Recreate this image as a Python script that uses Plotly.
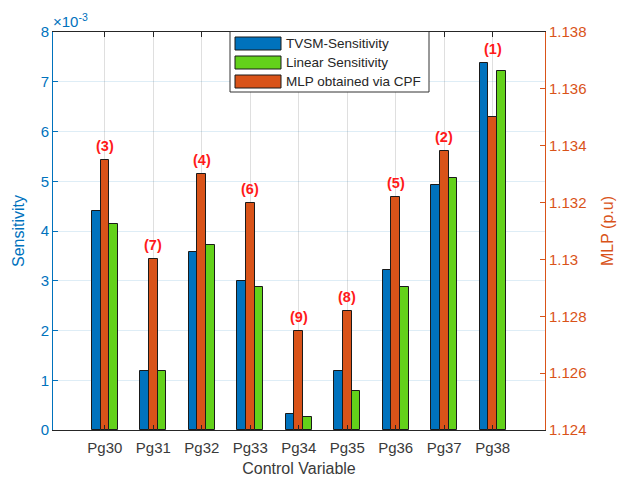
import plotly.graph_objects as go

# Control variables and sensitivity results
categories = ["Pg30", "Pg31", "Pg32", "Pg33", "Pg34", "Pg35", "Pg36", "Pg37", "Pg38"]
tvsm_sens = [4.41, 1.19, 3.58, 3.00, 0.315, 1.18, 3.21, 4.92, 7.38]   # x 1e-3
linear_sens = [4.15, 1.19, 3.72, 2.88, 0.26, 0.78, 2.88, 5.06, 7.22]  # x 1e-3
mlp_cpf = [1.1335, 1.1300, 1.1330, 1.1320, 1.1275, 1.1282, 1.1322, 1.1338, 1.1350]
mlp_rank = [3, 7, 4, 6, 9, 8, 5, 2, 1]
series_names = ["TVSM-Sensitivity", "Linear Sensitivity", "MLP obtained via CPF"]

BLUE = "#0072BD"
ORANGE = "#D95319"
GREEN = "#63D11A"
EDGE = "#1a1a1a"
FONT = "Liberation Sans, Arial, sans-serif"

Y1 = (0, 8)
Y2 = (1.124, 1.138)
W, H = 632, 477
M = dict(l=53, r=87, t=32, b=47)
PW, PH = W - M["l"] - M["r"], H - M["t"] - M["b"]

xs = list(range(len(categories)))
w = 0.18

fig = go.Figure()
fig.add_trace(go.Bar(
    x=xs, y=tvsm_sens, width=w, offset=-1.5 * w, name=series_names[0],
    marker=dict(color=BLUE, line=dict(color=EDGE, width=1)), yaxis="y"))
fig.add_trace(go.Bar(
    x=xs, y=linear_sens, width=w, offset=0.5 * w, name=series_names[1],
    marker=dict(color=GREEN, line=dict(color=EDGE, width=1)), yaxis="y"))
fig.add_trace(go.Bar(
    x=xs, y=[v - Y2[0] for v in mlp_cpf], base=Y2[0], width=w, offset=-0.5 * w,
    name=series_names[2],
    marker=dict(color=ORANGE, line=dict(color=EDGE, width=1)), yaxis="y2"))


def to_y2(v):
    """Map a left-axis value onto the right axis scale."""
    return Y2[0] + (v - Y1[0]) / (Y1[1] - Y1[0]) * (Y2[1] - Y2[0])


# Ranking labels placed above the tallest bar of each group
for x, t, l, m, r in zip(xs, tvsm_sens, linear_sens, mlp_cpf, mlp_rank):
    top = max(m, to_y2(t), to_y2(l))
    fig.add_annotation(x=x, y=top, xref="x", yref="y2", text=f"<b>({r})</b>",
                       showarrow=False, yanchor="bottom", yshift=4,
                       font=dict(color="#FF1A1A", size=14.5, family=FONT))

# Exponent marker of the left axis
fig.add_annotation(xref="paper", yref="paper", x=0, y=1, xanchor="left",
                   yanchor="bottom", yshift=0, xshift=-2, showarrow=False,
                   text="\u00d710<sup>-3</sup>",
                   font=dict(color=BLUE, size=15, family=FONT))

# Legend box with wide swatches
def px_x(p):
    return (p - M["l"]) / PW


def px_y(p):
    return (H - M["b"] - p) / PH


fig.add_shape(type="rect", xref="paper", yref="paper",
              x0=px_x(230), x1=px_x(429), y0=px_y(92), y1=px_y(31.5),
              fillcolor="white", line=dict(color="#333333", width=1), layer="above")
for i, (name, col) in enumerate(zip(series_names, [BLUE, GREEN, ORANGE])):
    cy = 43.5 + i * 19
    fig.add_shape(type="rect", xref="paper", yref="paper",
                  x0=px_x(235), x1=px_x(281), y0=px_y(cy + 6.5), y1=px_y(cy - 6.5),
                  fillcolor=col, line=dict(color=EDGE, width=1), layer="above")
    fig.add_annotation(xref="paper", yref="paper", x=px_x(284), y=px_y(cy),
                       xanchor="left", yanchor="middle", showarrow=False,
                       text=name, font=dict(size=13.5, color="#262626", family=FONT))

fig.update_layout(
    width=W, height=H,
    margin=dict(M, autoexpand=False),
    paper_bgcolor="white", plot_bgcolor="white",
    barmode="overlay", bargap=0,
    font=dict(family=FONT, size=15, color="#262626"),
    showlegend=False,
    xaxis=dict(
        tickmode="array", tickvals=xs, ticktext=categories,
        range=[-1.07, 9.08], ticks="inside", ticklen=5, tickcolor="#262626",
        showline=True, linecolor="#262626", linewidth=1, mirror="ticks",
        showgrid=True, gridcolor="rgba(38,38,38,0.15)", zeroline=False,
        automargin=False, ticklabelstandoff=4,
        tickfont=dict(size=15, color="#3a3a3a"),
        title=dict(text="Control Variable", font=dict(size=16, color="#3a3a3a"),
                   standoff=8),
    ),
    yaxis=dict(
        range=list(Y1), dtick=1, ticks="inside", ticklen=5, tickcolor=BLUE,
        showline=True, linecolor=BLUE, linewidth=1,
        showgrid=True, gridcolor="rgba(0,114,189,0.13)", zeroline=False,
        automargin=False,
        tickfont=dict(size=15, color=BLUE),
        title=dict(text="Sensitivity", font=dict(size=16, color=BLUE), standoff=12),
    ),
    yaxis2=dict(
        range=list(Y2), dtick=0.002, overlaying="y", side="right",
        ticks="inside", ticklen=5, tickcolor=ORANGE,
        showline=True, linecolor=ORANGE, linewidth=1,
        showgrid=False, zeroline=False, tickformat="~g", automargin=False,
        tickfont=dict(size=15, color=ORANGE),
        title=dict(text="MLP (p.u)", font=dict(size=16, color=ORANGE), standoff=16),
    ),
)

fig.write_html("out.html")
